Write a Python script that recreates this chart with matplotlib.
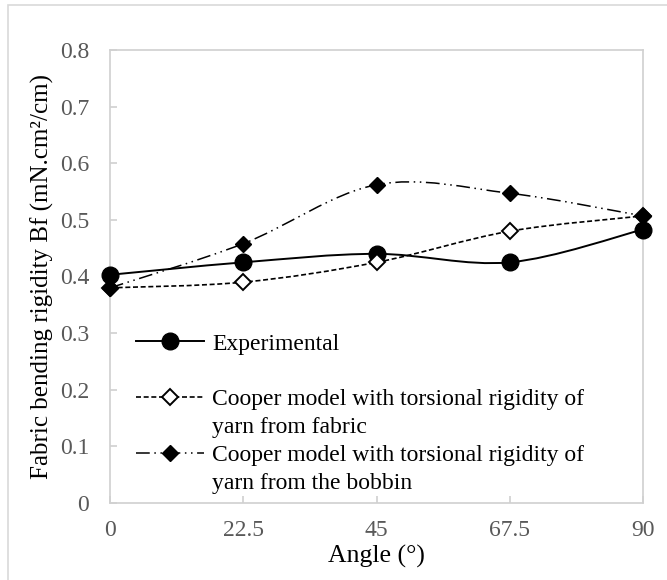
import numpy as np
import matplotlib
matplotlib.use("Agg")
import matplotlib.pyplot as plt
from matplotlib.path import Path
from matplotlib.patches import PathPatch, Rectangle
from matplotlib.lines import Line2D

plt.rcParams['font.family'] = ['Liberation Serif', 'DejaVu Serif']

angles = [0, 22.5, 45, 67.5, 90]
experimental = [0.403, 0.425, 0.44, 0.425, 0.483]
fabric_model = [0.38, 0.39, 0.425, 0.48, 0.507]
bobbin_model = [0.38, 0.458, 0.562, 0.547, 0.507]
labels = ["Experimental",
          "Cooper model with torsional rigidity of\nyarn from fabric",
          "Cooper model with torsional rigidity of\nyarn from the bobbin"]
xticks = [0, 22.5, 45, 67.5, 90]
xticklabels = ['0', '22.5', '45', '67.5', '90']
yticks = [0, 0.1, 0.2, 0.3, 0.4, 0.5, 0.6, 0.7, 0.8]
yticklabels = ['0', '0.1', '0.2', '0.3', '0.4', '0.5', '0.6', '0.7', '0.8']


def smooth_path(xs, ys):
    pts = np.column_stack([xs, ys]).astype(float)
    n = len(pts)
    verts = [pts[0]]
    codes = [Path.MOVETO]
    for i in range(n - 1):
        p0 = pts[i - 1] if i > 0 else pts[i]
        p1 = pts[i]
        p2 = pts[i + 1]
        p3 = pts[i + 2] if i + 2 < n else pts[i + 1]
        c1 = p1 + (p2 - p0) / 6.0
        c2 = p2 - (p3 - p1) / 6.0
        verts += [c1, c2, p2]
        codes += [Path.CURVE4] * 3
    return Path(verts, codes)


W, H = 667, 580
fig = plt.figure(figsize=(W / 100, H / 100), dpi=100)
fig.patches.append(Rectangle((8 / W, -0.05), 1.2, 1 - 5 / H + 0.05,
                             transform=fig.transFigure, fill=False,
                             edgecolor='#d9d9d9', lw=1.2, zorder=0))
L, R, T, B = 110, 643, 50, 503
ax = fig.add_axes([L / W, 1 - B / H, (R - L) / W, (B - T) / H])

styles = [
    dict(ls='-', lw=1.4, marker='o', ms=12, mfc='black', mec='black'),
    dict(ls=(0, (3.0, 1.6)), lw=1.2, marker='D', ms=8, mfc='white', mec='black', mew=1.4),
    dict(ls=(0, (9, 3, 1, 3, 1, 3)), lw=1.1, marker='D', ms=8.5, mfc='black', mec='black'),
]
series = [experimental, fabric_model, bobbin_model]
for ys, st in zip(series, styles):
    patch = PathPatch(smooth_path(angles, ys), fill=False, edgecolor='black',
                      lw=st['lw'], linestyle=st['ls'], zorder=3, capstyle='butt')
    ax.add_patch(patch)
    ax.plot(angles, ys, linestyle='none', marker=st['marker'], ms=st['ms'],
            mfc=st['mfc'], mec=st['mec'], mew=st.get('mew', 1.0), zorder=4,
            clip_on=False)

ax.set_xlim(0, 90)
ax.set_ylim(0, 0.8)
ax.set_xticks(xticks)
ax.set_xticklabels(xticklabels)
ax.set_yticks(yticks)
ax.set_yticklabels(yticklabels)
for s in ax.spines.values():
    s.set_color('#d0d0d0')
    s.set_linewidth(1.2)
ax.tick_params(direction='in', length=5, color='#d0d0d0', labelcolor='#595959',
               labelsize=17, width=1.2)
ax.tick_params(axis='x', pad=12)
ax.tick_params(axis='y', pad=15)
ax.set_xlabel('Angle (°)', fontsize=18.5, labelpad=3)
ax.set_ylabel('Fabric bending rigidity Bf (mN.cm²/cm)', fontsize=18, labelpad=4)

blank = Line2D([], [], linestyle='none', marker=None)
handles = []
for st in styles:
    handles.append(Line2D([], [], color='black', ls=st['ls'], lw=st['lw'],
                          marker=st['marker'], ms=st['ms'], mfc=st['mfc'],
                          mec=st['mec'], mew=st.get('mew', 1.0)))
leg_handles = [handles[0], blank, handles[1], blank, handles[2], blank]
lab1 = labels[1].split('\n')
lab2 = labels[2].split('\n')
leg_labels = [labels[0], ' ', lab1[0], lab1[1], lab2[0], lab2[1]]
leg = ax.legend(leg_handles, leg_labels, loc='upper left',
                bbox_to_anchor=((136 - L) / (R - L), (B - 333) / (B - T)),
                frameon=False, fontsize=17, handlelength=2.9, handletextpad=0.34,
                labelspacing=0.27, borderaxespad=0, borderpad=0)

fig.savefig('out.png', dpi=100)
